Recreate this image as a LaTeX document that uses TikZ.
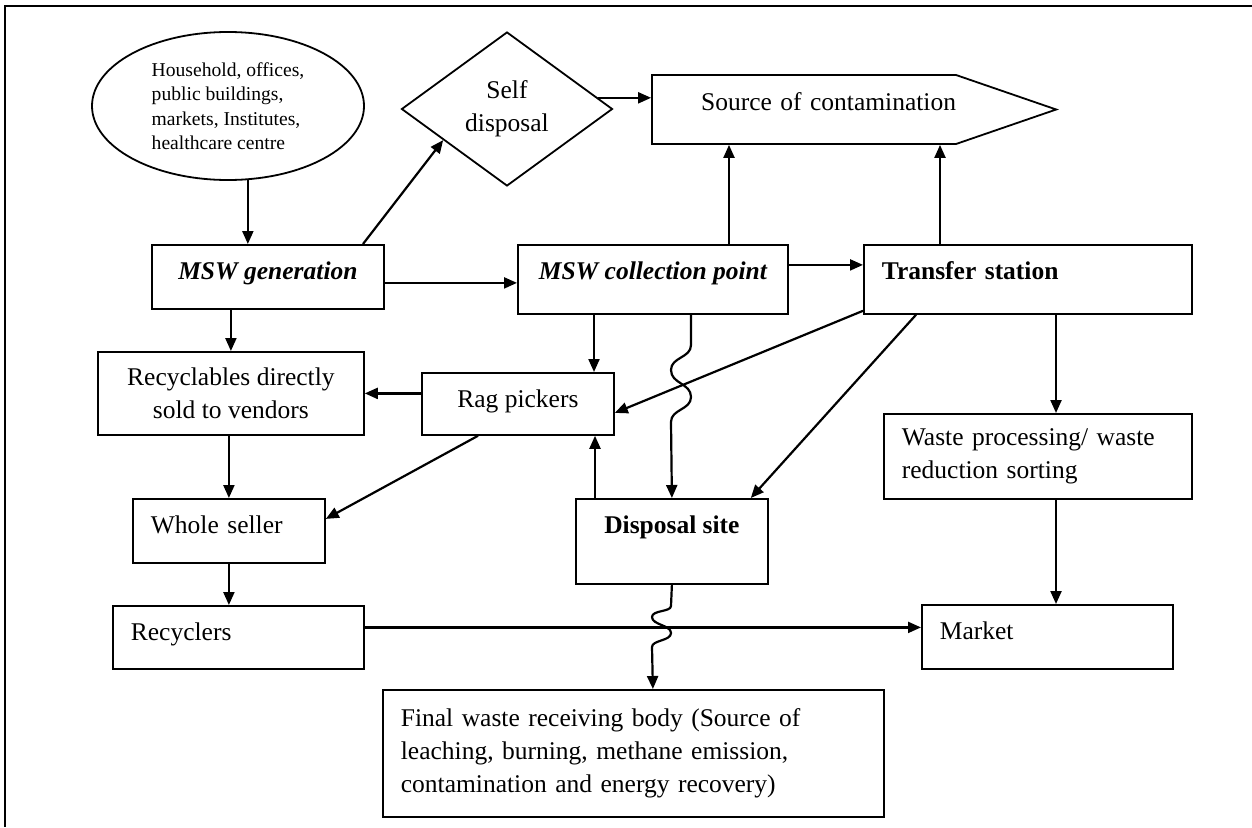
\documentclass[tikz,border=0pt]{standalone}
\usepackage{fontspec}
\setmainfont{Liberation Serif}
\usetikzlibrary{shapes.geometric,shapes.symbols,arrows.meta}

\begin{document}
\begin{tikzpicture}[x=1pt,y=-1pt,line width=1.8pt,font=\fontsize{25.5}{33}\selectfont,
    box/.style={draw,rectangle,anchor=north west,inner xsep=18pt,inner ysep=0pt},
    oneline/.style={text height=35pt,text depth=#1},
    flow/.style={line width=2.2pt,-{Triangle[length=13pt,width=11pt]}}]
    \useasboundingbox (0,0) rectangle (1252,827);
    \draw (1252,6) -- (5,6) -- (5,827);
    % sources and top row
    \node [ellipse,draw,minimum width=272pt,minimum height=148pt,inner sep=0pt,align=left,font=\fontsize{19.6}{24.5}\selectfont] (src) at (228,106) {Household, offices,\\public buildings,\\markets, Institutes,\\healthcare centre};
    \node [diamond,draw,aspect=1.37,minimum width=211pt,minimum height=154pt,inner sep=0pt,align=center] (sd) at (507,109) {Self\\disposal};
    \node [signal,draw,signal to=east,signal pointer angle=38,minimum width=404pt,minimum height=69pt,inner sep=0pt,text width=304pt,align=right,oneline=34pt] (cont) at (804,109.5) {Source of contamination};
    % boxes
    \node [box,minimum width=232pt,minimum height=64pt,oneline=29pt,font=\fontsize{25.5}{33}\selectfont\bfseries\itshape] (gen) at (151,244) {MSW generation};
    \node [box,minimum width=270pt,minimum height=69pt,oneline=34pt,font=\fontsize{25.5}{33}\selectfont\bfseries\itshape] (cp) at (517,244) {MSW collection point};
    \node [box,text width=292pt,align=left,minimum height=69pt,oneline=34pt,font=\fontsize{25.5}{33}\selectfont\bfseries] (ts) at (863,244) {Transfer station};
    \node [box,minimum width=266pt,minimum height=83pt,align=center] (rec) at (97,351) {Recyclables directly\\sold to vendors};
    \node [box,minimum width=192pt,minimum height=62pt,oneline=27pt] (rag) at (421,372) {Rag pickers};
    \node [box,text width=272pt,align=left,minimum height=85pt] (wp) at (883,413) {Waste processing/ waste\\reduction sorting};
    \node [box,text width=156pt,align=left,minimum height=64pt,oneline=29pt] (ws) at (132,498) {Whole seller};
    \node [box,minimum width=192pt,minimum height=85pt,oneline=50pt,font=\fontsize{25.5}{33}\selectfont\bfseries] (ds) at (575,498) {Disposal site};
    \node [box,text width=215pt,align=left,minimum height=63pt,oneline=28pt] (rcy) at (112,605) {Recyclers};
    \node [box,text width=215pt,align=left,minimum height=64pt,oneline=29pt] (mk) at (921,604) {Market};
    \node [box,text width=465pt,align=left,minimum height=127pt] (fin) at (382,689) {Final waste receiving body (Source of\\leaching, burning, methane emission,\\contamination and energy recovery)};
    % connectors
    \path [flow]
        (src.-75.5) edge (src.-75.5 |- gen.north)
        ([xshift=212pt]gen.north west) edge (sd.-154)
        (sd.7.5) edge (sd.7.5 -| cont.west)
        ([xshift=212pt]cp.north west) edge ([xshift=212pt]cp.north west |- cont.south)
        ([xshift=77pt]ts.north west) edge ([xshift=77pt]ts.north west |- cont.south)
        ([yshift=-6pt]gen.east) edge ([yshift=-6pt]gen.east -| cp.west)
        ([yshift=14.5pt]cp.east) edge ([yshift=14.5pt]cp.east -| ts.west)
        (gen.south -| rec.north) edge (rec.north)
        (ws.north |- rec.south) edge (ws.north)
        (ws.south) edge (ws.south |- rcy.north)
        ([yshift=10pt]rcy.east) edge ([yshift=10pt]rcy.east -| mk.west)
        ([xshift=193pt]ts.south west) edge ([xshift=193pt]ts.south west |- wp.north)
        ([xshift=173pt]wp.south west) edge ([xshift=173pt]wp.south west |- mk.north)
        ([xshift=77pt]cp.south west) edge ([xshift=77pt]cp.south west |- rag.north)
        (rag.west |- rec.east) edge (rec.east)
        ([xshift=57pt]rag.south west) edge ([yshift=12pt]ws.east)
        ([yshift=4pt]ts.south west) edge ([yshift=-9pt]rag.east)
        ([xshift=53pt]ts.south west) edge ([xshift=-18pt]ds.north east)
        ([xshift=20pt]ds.north west) edge ([xshift=20pt]ds.north west |- rag.south);
    % wavy connectors
    \draw [flow] ([xshift=174pt]cp.south west) -- (691,345) .. controls (691,358) and (671,357) .. (671,370)
        .. controls (671,384) and (691,383) .. (691,397) .. controls (691,410) and (671,409) .. (671,422) -- (ds.north);
    \draw [flow] (ds.south) -- (671,606) .. controls (671,612) and (652,610) .. (652,617)
        .. controls (652,625) and (671,625) .. (671,633) .. controls (671,641) and (652,640) .. (652,647) -- ([xshift=19.5pt]fin.north);
\end{tikzpicture}
\end{document}
